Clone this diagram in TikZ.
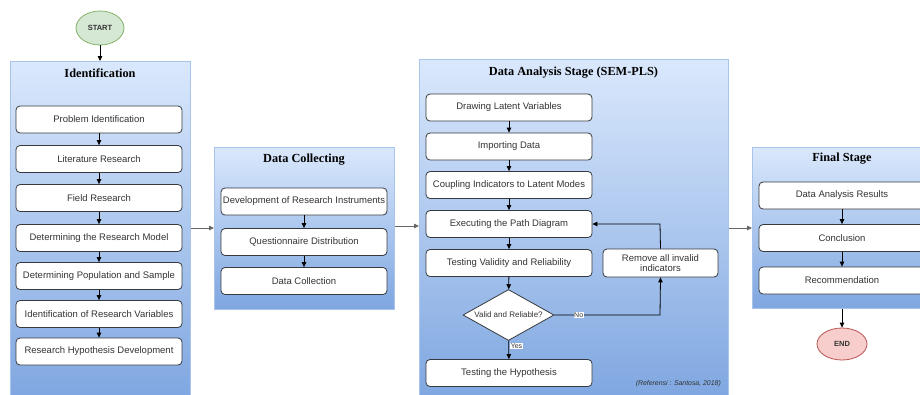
\documentclass[tikz,border=0pt]{standalone}
\usepackage{fontspec}
\setmainfont{Liberation Serif}
\setsansfont{Liberation Sans}
\usetikzlibrary{shapes.geometric,arrows.meta}
\definecolor{gtop}{HTML}{DAE8FC}
\definecolor{gbot}{HTML}{7EA6E0}
\definecolor{contline}{HTML}{A9C4EB}
\definecolor{boxline}{HTML}{36393D}
\definecolor{txt}{HTML}{333333}
\definecolor{startfill}{HTML}{D5E8D4}
\definecolor{startline}{HTML}{82B366}
\definecolor{endfill}{HTML}{F8CECC}
\definecolor{endline}{HTML}{B85450}
\begin{document}
\begin{tikzpicture}[x=1pt,y=-1pt,
  container/.style={draw=contline, line width=0.8pt, top color=gtop, bottom color=gbot, anchor=north west, inner sep=0pt},
  stagetitle/.style={font=\bfseries\fontsize{12.3}{14}\selectfont, text=black},
  stepbox/.style={draw=boxline, fill=white, rounded corners=4pt, line width=0.8pt, minimum width=166pt, minimum height=27pt, inner sep=0pt, font=\sffamily\fontsize{9.5}{11}\selectfont, text=txt, align=center},
  terminal/.style={ellipse, line width=0.8pt, inner sep=0pt, font=\sffamily\bfseries\fontsize{7.5}{9}\selectfont, text=txt},
  arr/.style={-{Triangle[length=5pt,width=4.5pt]}, line width=0.8pt, draw=black},
  garr/.style={-{Triangle[length=5pt,width=4.5pt]}, line width=0.8pt, draw=gray!80!black},
  lbl/.style={fill=white, inner sep=0.6pt, font=\sffamily\fontsize{7}{8}\selectfont, text=txt}
]
\useasboundingbox (0,0) rectangle (920,394);
\fill[white] (0,0) rectangle (920,394);
\clip (0,0) rectangle (920,394);

% containers
\node[container, minimum width=180pt, minimum height=340pt] (ident) at (10,61) {};
\node[container, minimum width=180pt, minimum height=162pt] (dcol) at (214,147) {};
\node[container, minimum width=309pt, minimum height=342pt] (dana) at (419,59) {};
\node[container, minimum width=180pt, minimum height=161pt] (final) at (752,147) {};

% titles
\node[stagetitle] (identT) at (100,73) {Identification};
\node[stagetitle] (dcolT) at (304,160) {Data Collecting};
\node[stagetitle] (danaT) at (573.5,73) {Data Analysis Stage (SEM-PLS)};
\node[stagetitle] (finalT) at (842,159) {Final Stage};

% start / end
\node[terminal, fill=startfill, draw=startline, minimum width=48pt, minimum height=34pt] (start) at (100,28) {START};
\node[terminal, fill=endfill, draw=endline, minimum width=50pt, minimum height=32pt] (end) at (842,344) {END};

% identification steps
\node[stepbox] (i1) at (99,119.5) {Problem Identification};
\node[stepbox] (i2) at (99,159) {Literature Research};
\node[stepbox] (i3) at (99,198) {Field Research};
\node[stepbox] (i4) at (99,238) {Determining the Research Model};
\node[stepbox] (i5) at (99,276) {Determining Population and Sample};
\node[stepbox] (i6) at (99,314) {Identification of Research Variables};
\node[stepbox] (i7) at (99,351.5) {Research Hypothesis Development};

% data collecting steps
\node[stepbox] (c1) at (304,201.5) {Development of Research Instruments};
\node[stepbox] (c2) at (304,242) {Questionnaire Distribution};
\node[stepbox] (c3) at (304,281) {Data Collection};

% data analysis steps
\node[stepbox] (a1) at (509,107.5) {Drawing Latent Variables};
\node[stepbox] (a2) at (509,146.5) {Importing Data};
\node[stepbox] (a3) at (509,185) {Coupling Indicators to Latent Modes};
\node[stepbox] (a4) at (509,224) {Executing the Path Diagram};
\node[stepbox] (a5) at (509,263) {Testing Validity and Reliability};
\node[diamond, draw=boxline, fill=white, line width=0.8pt, aspect=1.8, inner sep=0pt, minimum width=91pt, minimum height=51pt, font=\sffamily\fontsize{8}{9}\selectfont, text=txt] (dec) at (508.5,315) {Valid and Reliable?};
\node[stepbox] (a6) at (509,373) {Testing the Hypothesis};
\node[stepbox, minimum width=115pt, minimum height=28pt] (rem) at (660.5,263) {Remove all invalid\\[-1pt]indicators};
\node[font=\sffamily\itshape\fontsize{6.9}{8}\selectfont, text=txt, anchor=east, inner sep=0pt] (ref) at (721,384) {(Referensi : Santosa, 2018)};

% final steps
\node[stepbox] (f1) at (842,195.5) {Data Analysis Results};
\node[stepbox] (f2) at (842,238) {Conclusion};
\node[stepbox] (f3) at (842,280.5) {Recommendation};

% coordinates for connectors
\coordinate (y1) at (0,228);
\coordinate (y2) at (0,226);
\coordinate (y3) at (0,228);
\coordinate (noturn) at (660,315);
\coordinate (backturn) at (660,224);

% connectors
\draw[arr] (start) -- (ident.north -| start);
\foreach \a/\b in {i1/i2,i2/i3,i3/i4,i4/i5,i5/i6,i6/i7,c1/c2,c2/c3,a1/a2,a2/a3,a3/a4,a4/a5,f1/f2,f2/f3}
  \draw[arr] (\a) -- (\b);
\draw[arr] (a5) -- (dec);
\draw[arr] (dec) -- node[lbl, pos=0.3, anchor=west, xshift=1pt] (yes) {Yes} (a6);
\draw[arr] (dec.east) -- node[lbl, pos=0.23] (no) {No} (noturn) -- (rem.south);
\draw[arr] (rem.north) -- (backturn) -- (a4.east);
\draw[garr] (ident.east |- y1) -- (dcol.west |- y1);
\draw[garr] (dcol.east |- y2) -- (dana.west |- y2);
\draw[garr] (dana.east |- y3) -- (final.west |- y3);
\draw[arr] (final.south -| end) -- (end);
\end{tikzpicture}
\end{document}
